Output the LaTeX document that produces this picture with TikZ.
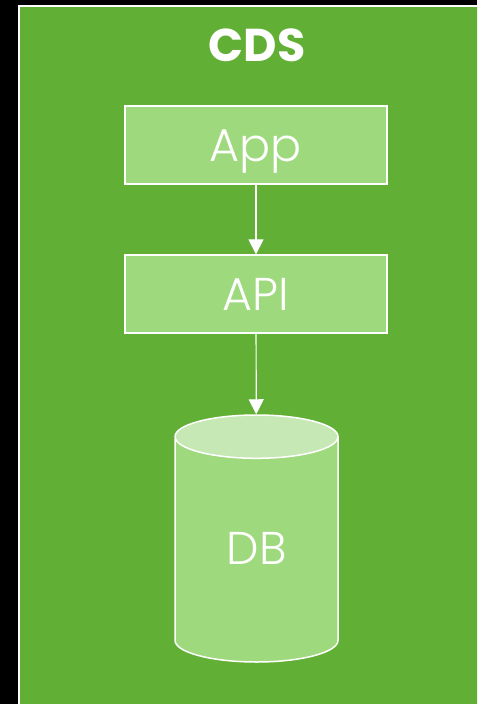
\documentclass[tikz,border=0pt]{standalone}
\usepackage{fontspec}
\setmainfont{Poppins}[UprightFont=* Light, BoldFont=* Bold]
\usetikzlibrary{arrows.meta,shapes.geometric}
\definecolor{cdsgreen}{RGB}{98,175,54}
\definecolor{boxgreen}{RGB}{158,217,126}
\definecolor{lidgreen}{RGB}{198,232,180}
\tikzset{
    label font/.style={text=white, font=\fontsize{46}{50}\selectfont,
        text height=33pt, text depth=0pt},
    block/.style={draw=white, line width=1.3pt, fill=boxgreen, label font,
        minimum width=262pt, minimum height=78pt},
    link/.style={draw=white, line width=1.2pt, -{Triangle[width=15pt,length=15pt]}},
}
\begin{document}
\begin{tikzpicture}[x=1pt,y=-1pt]
    \useasboundingbox (0,0) rectangle (477,704);
    \fill[black] (0,0) rectangle (477,704);
    \begin{scope}
        \clip (0,0) rectangle (477,704);
        \draw[white, line width=1.5pt, fill=cdsgreen] (19,6) rectangle (490,720);
    \end{scope}
    \node[label font, font=\fontsize{46}{50}\selectfont\bfseries] (title) at (257,45) {CDS};
    \node[block] (app) at (256,145) {App};
    \node[block] (api) at (256,294) {API};
    \node[cylinder, shape border rotate=90, draw=white, line width=1.5pt,
        cylinder uses custom fill, cylinder body fill=boxgreen, cylinder end fill=lidgreen,
        aspect=0.65, minimum width=163pt, minimum height=247pt, label font,
        text depth=10pt, anchor=shape center] (db) at (256.5,538.5) {DB};
    \draw[link] (app) -- (api);
    \draw[link] (api) -- (db);
\end{tikzpicture}
\end{document}
